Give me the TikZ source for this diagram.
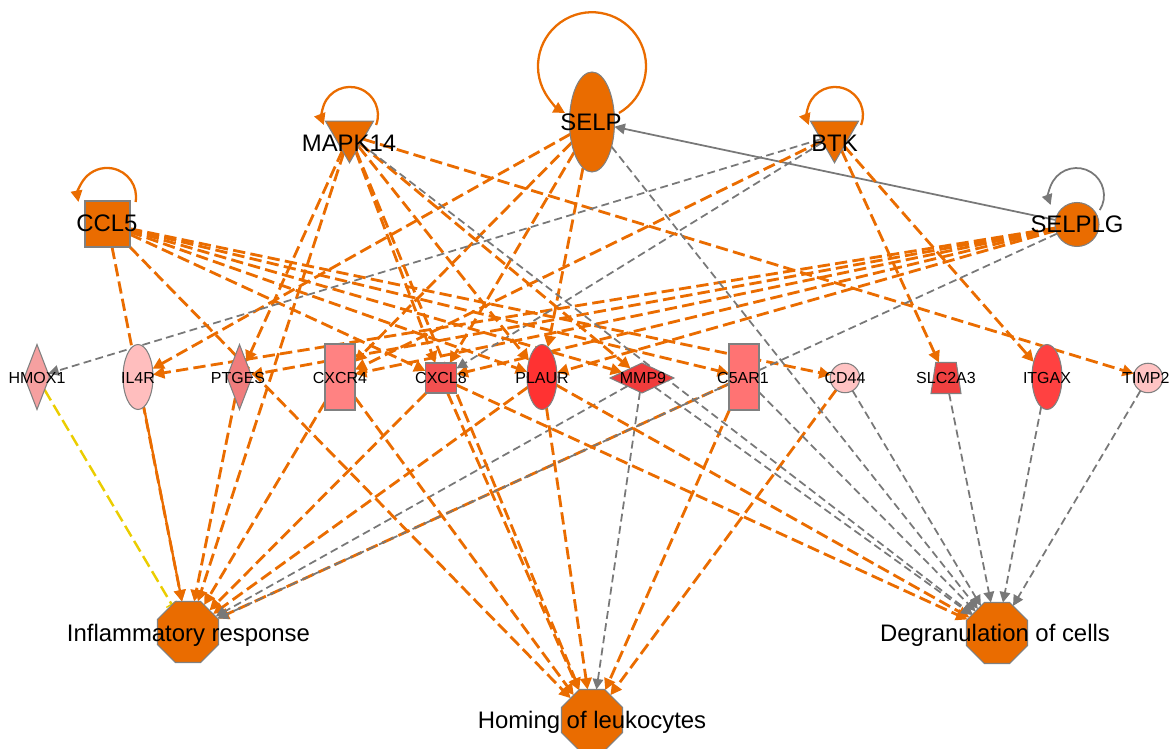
\documentclass[tikz,border=0pt]{standalone}
\usepackage{fontspec}
\setmainfont{Liberation Sans}
\usetikzlibrary{shapes.geometric,arrows.meta}

\definecolor{ipaorange}{RGB}{234,108,0}
\definecolor{ipagray}{RGB}{120,120,120}
\definecolor{ipayellow}{RGB}{235,205,0}
\definecolor{nodeline}{RGB}{128,128,128}
\definecolor{fhmox}{RGB}{245,160,160}
\definecolor{fil4r}{RGB}{255,190,190}
\definecolor{fptges}{RGB}{240,125,125}
\definecolor{fcxcr}{RGB}{255,130,130}
\definecolor{fcxcl}{RGB}{242,80,80}
\definecolor{fplaur}{RGB}{255,50,50}
\definecolor{fmmp}{RGB}{240,60,60}
\definecolor{fcfive}{RGB}{255,115,115}
\definecolor{fcd}{RGB}{255,195,195}
\definecolor{fslc}{RGB}{240,65,65}
\definecolor{fitgax}{RGB}{255,65,65}
\definecolor{ftimp}{RGB}{255,195,195}

% several sources, one target
\newcommand{\fanin}[3]{\foreach \src in {#2} {\draw[#1] (\src) -- (#3);}}

\pgfdeclarelayer{back}
\pgfsetlayers{back,main}

\tikzset{
  gene/.style={draw=nodeline, line width=0.6pt, inner sep=0pt, outer sep=0pt},
  func/.style={gene, fill=ipaorange, regular polygon, regular polygon sides=8,
    minimum size=1.32cm},
  tri/.style={gene, fill=ipaorange, regular polygon, regular polygon sides=3,
    shape border rotate=180, minimum size=1.11cm},
  biglbl/.style={font=\fontsize{13.6}{15}\selectfont, inner sep=0pt, anchor=base},
  smlbl/.style={font=\fontsize{9.1}{10}\selectfont, inner sep=0pt, anchor=base},
  act/.style={ipaorange, line width=1.6pt, dash pattern=on 7pt off 3pt,
    -{Triangle[length=6.5pt,width=6.5pt]}},
  acts/.style={ipaorange, line width=1.3pt, -{Triangle[length=6.5pt,width=6.5pt]}},
  noeff/.style={ipagray, line width=1pt, dash pattern=on 4.5pt off 2.5pt,
    -{Triangle[length=6pt,width=6pt]}},
  noeffs/.style={ipagray, line width=1pt, -{Triangle[length=6pt,width=6pt]}},
  incons/.style={ipayellow, line width=1.4pt, dash pattern=on 7pt off 3pt,
    -{Bar[width=7pt,line width=0.8pt]}},
}

\begin{document}
\begin{tikzpicture}[x=0.02cm, y=0.02cm]
  \useasboundingbox (0,0) rectangle (1171,-749);

  % Define nodes
  \node[gene, fill=ipaorange, ellipse, minimum width=0.9cm, minimum height=2cm] (selp) at (592,-122) {};
  \node[tri] (mapk) at (349.5,-135) {};
  \node[tri] (btk) at (834.5,-135) {};
  \node[gene, fill=ipaorange, minimum width=0.9cm, minimum height=0.92cm] (ccl5) at (107.5,-224) {};
  \node[gene, fill=ipaorange, circle, minimum size=0.88cm] (selplg) at (1077,-224.5) {};

  \node[gene, fill=fhmox, diamond, minimum width=0.5cm, minimum height=1.3cm] (hmox1) at (37,-377) {};
  \node[gene, fill=fil4r, ellipse, minimum width=0.6cm, minimum height=1.3cm] (il4r) at (138,-377) {};
  \node[gene, fill=fptges, diamond, minimum width=0.5cm, minimum height=1.3cm] (ptges) at (239.5,-377) {};
  \node[gene, fill=fcxcr, minimum width=0.6cm, minimum height=1.32cm] (cxcr4) at (340,-377) {};
  \node[gene, fill=fcxcl, minimum width=0.62cm, minimum height=0.6cm] (cxcl8) at (441,-378) {};
  \node[gene, fill=fplaur, ellipse, minimum width=0.6cm, minimum height=1.3cm] (plaur) at (542,-377) {};
  \node[gene, fill=fmmp, diamond, minimum width=1.28cm, minimum height=0.6cm] (mmp9) at (642,-378) {};
  \node[gene, fill=fcfive, minimum width=0.6cm, minimum height=1.32cm] (c5ar1) at (744,-377) {};
  \node[gene, fill=fcd, circle, minimum size=0.59cm] (cd44) at (845,-378) {};
  \node[gene, fill=fslc, trapezium, trapezium angle=77, trapezium stretches, inner sep=1pt,
    minimum width=0.6cm, minimum height=0.62cm] (slc2a3) at (946,-378) {};
  \node[gene, fill=fitgax, ellipse, minimum width=0.6cm, minimum height=1.3cm] (itgax) at (1047,-377) {};
  \node[gene, fill=ftimp, circle, minimum size=0.59cm] (timp2) at (1148,-378) {};

  \node[func] (infl) at (188,-632) {};
  \node[func] (homing) at (592,-720) {};
  \node[func] (degran) at (997,-633) {};

  % Labels
  \node[biglbl] (selp-l) at (591,-130.5) {SELP};
  \node[biglbl] (mapk-l) at (349,-151.5) {MAPK14};
  \node[biglbl] (btk-l) at (834.5,-151.5) {BTK};
  \node[biglbl] (ccl5-l) at (107,-231.5) {CCL5};
  \node[biglbl] (selplg-l) at (1077,-232.5) {SELPLG};
  \node[smlbl] (hmox1-l) at (37,-383.7) {HMOX1};
  \node[smlbl] (il4r-l) at (138,-383.7) {IL4R};
  \node[smlbl] (ptges-l) at (238,-383.7) {PTGES};
  \node[smlbl] (cxcr4-l) at (340,-383.7) {CXCR4};
  \node[smlbl] (cxcl8-l) at (441,-383.7) {CXCL8};
  \node[smlbl] (plaur-l) at (542,-383.7) {PLAUR};
  \node[smlbl] (mmp9-l) at (643,-383.7) {MMP9};
  \node[smlbl] (c5ar1-l) at (743,-383.7) {C5AR1};
  \node[smlbl] (cd44-l) at (845,-383.7) {CD44};
  \node[smlbl] (slc2a3-l) at (946,-383.7) {SLC2A3};
  \node[smlbl] (itgax-l) at (1047,-383.7) {ITGAX};
  \node[smlbl] (timp2-l) at (1146,-383.7) {TIMP2};
  \node[biglbl] (infl-l) at (188.5,-641.5) {Inflammatory response};
  \node[biglbl] (homing-l) at (592,-728.5) {Homing of leukocytes};
  \node[biglbl] (degran-l) at (995,-641.5) {Degranulation of cells};

  % Connect the nodes
  \begin{pgfonlayer}{back}
    \draw[acts] ([shift={(27,9)}]selp.center) arc[start angle=-60, end angle=240, radius=54];
    \draw[acts] ([shift={(26.6,10)}]mapk.center) arc[start angle=-21, end angle=201, radius=28];
    \draw[acts] ([shift={(26.6,10)}]btk.center) arc[start angle=-21, end angle=201, radius=28];
    \draw[acts] ([shift={(28.1,22)}]ccl5.center) arc[start angle=-10, end angle=190, radius=29];
    \draw[noeffs] ([shift={(22.8,14.4)}]selplg.center) arc[start angle=-32, end angle=200, radius=27.5];
    \draw[noeffs] (selplg) -- (selp);

    \fanin{act}{selp,selplg}{il4r}
    \fanin{act}{mapk,selplg}{ptges}
    \fanin{act}{selp,btk,selplg}{cxcr4}
    \fanin{act}{ccl5,mapk,selp,selplg}{cxcl8}
    \fanin{noeff}{btk}{cxcl8}
    \fanin{act}{ccl5,mapk,selp,selplg}{plaur}
    \fanin{act}{ccl5,mapk}{mmp9}
    \fanin{act}{ccl5}{c5ar1}
    \fanin{act}{ccl5}{cd44}
    \fanin{act}{btk}{slc2a3}
    \fanin{act}{btk}{itgax}
    \fanin{act}{mapk}{timp2}
    \fanin{noeff}{btk}{hmox1}

    \fanin{act}{ccl5,mapk,ptges,cxcr4,cxcl8,plaur,c5ar1}{infl}
    \fanin{noeff}{mmp9,selplg}{infl}
    \fanin{acts}{il4r}{infl}
    \fanin{incons}{hmox1}{infl}
    \fanin{act}{ccl5,mapk,cxcr4,cxcl8,plaur,c5ar1,cd44}{homing}
    \fanin{noeff}{mmp9}{homing}
    \fanin{act}{cxcl8,plaur}{degran}
    \fanin{noeff}{mapk,selp,mmp9,c5ar1,cd44,slc2a3,itgax,timp2}{degran}
  \end{pgfonlayer}
\end{tikzpicture}
\end{document}
